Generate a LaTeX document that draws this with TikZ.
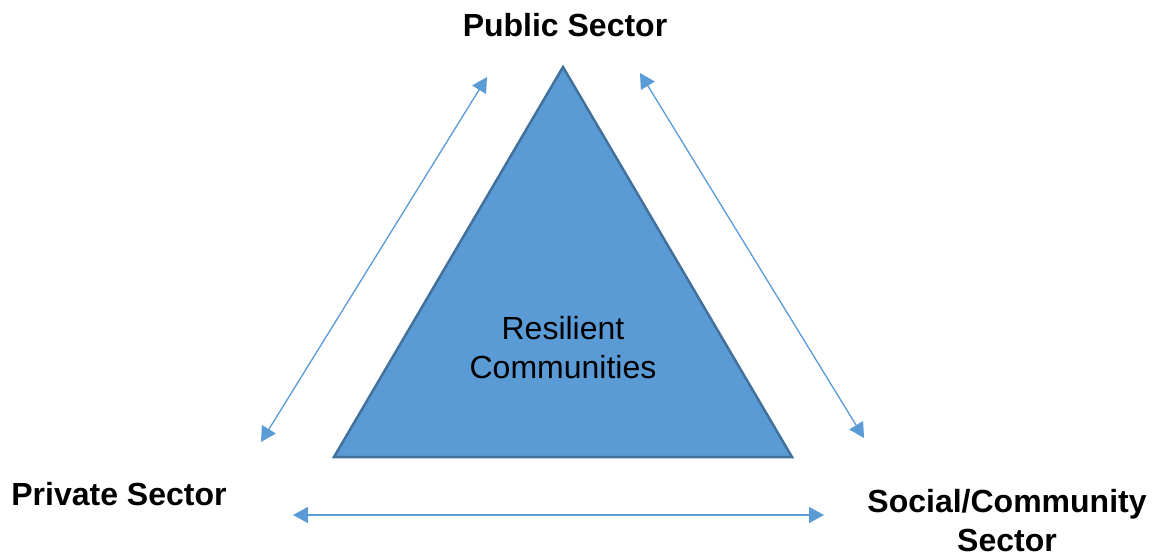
\documentclass[tikz,border=0pt]{standalone}
\usepackage{fontspec}
\setmainfont{Liberation Sans}
\usetikzlibrary{arrows.meta, positioning}
\definecolor{sectorblue}{HTML}{5B9BD5}
\definecolor{edgeblue}{HTML}{41719C}

\begin{document}
\begin{tikzpicture}[
    x=1pt, y=-1pt,
    font=\fontsize{32}{39}\selectfont,
    sector/.style = {font=\fontsize{32}{39}\selectfont\bfseries, align=center, inner sep=0pt},
    core/.style = {fill=sectorblue, draw=edgeblue, line width=2.5pt, line join=miter},
    link/.style = {{Triangle[length=15pt, width=16pt]}-{Triangle[length=15pt, width=16pt]},
                   draw=sectorblue, fill=sectorblue, line width=1.3pt}
]
\useasboundingbox (0,0) rectangle (1152,553);

% ---- Triangle ----
\coordinate (apex) at (563,67);
\coordinate (left) at (334,457);
\coordinate (right) at (792,457);
\draw[core] (apex) -- (right) -- (left) -- cycle;
\node[align=center, inner sep=0pt] (resilient) at (563,348) {Resilient\\Communities};

% ---- Sector labels ----
\node[sector, anchor=base] (public) at (565,37) {Public Sector};
\node[sector, anchor=base] (private) at (119,505) {Private Sector};
\node[sector, anchor=base] (social) at (1007,551) {Social/Community\\Sector};

% ---- Arrow ends ----
\coordinate (pubL) at (487,77);
\coordinate (pubR) at (640,73);
\coordinate (privU) at (261,442);
\coordinate (privB) at (293,515);
\coordinate (socU) at (864,438);
\coordinate (socB) at (824,515);

% ---- Arrows ----
\draw[link] (privU) -- (pubL);
\draw[link] (pubR) -- (socU);
\draw[link] (privB) -- (socB);

\end{tikzpicture}
\end{document}
